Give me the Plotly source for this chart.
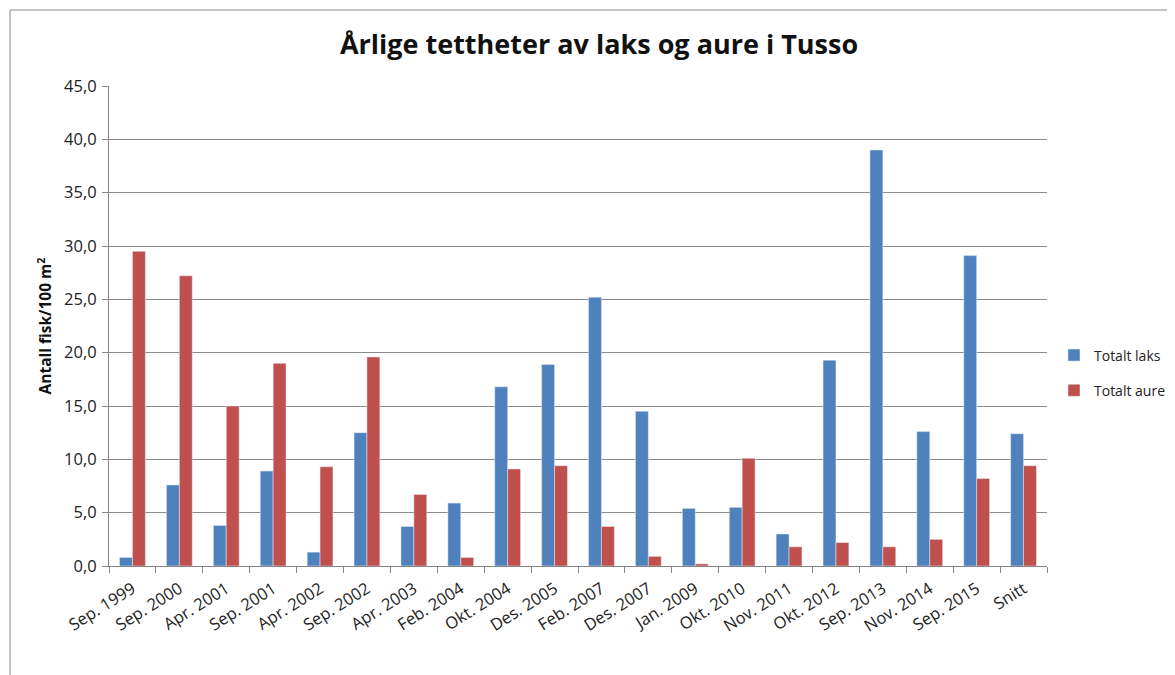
import plotly.graph_objects as go

categories = ["Sep. 1999", "Sep. 2000", "Apr. 2001", "Sep. 2001", "Apr. 2002", "Sep. 2002",
              "Apr. 2003", "Feb. 2004", "Okt. 2004", "Des. 2005", "Feb. 2007", "Des. 2007",
              "Jan. 2009", "Okt. 2010", "Nov. 2011", "Okt. 2012", "Sep. 2013", "Nov. 2014",
              "Sep. 2015", "Snitt"]
laks = [0.8, 7.6, 3.8, 8.9, 1.3, 12.5, 3.7, 5.9, 16.8, 18.9, 25.2, 14.5,
        5.4, 5.5, 3.0, 19.3, 39.0, 12.6, 29.1, 12.4]
aure = [29.5, 27.2, 15.0, 19.0, 9.3, 19.6, 6.7, 0.8, 9.1, 9.4, 3.7, 0.9,
        0.2, 10.1, 1.8, 2.2, 1.8, 2.5, 8.2, 9.4]
y_ticks = [0, 5, 10, 15, 20, 25, 30, 35, 40, 45]

FONT = "'Open Sans', Lato, sans-serif"
W, H = 1175, 675
L, R, T, B = 101, 136, 78, 117
PW, PH = W - L - R, H - T - B

fig = go.Figure()
fig.add_trace(go.Bar(x=categories, y=laks, name="Totalt laks", marker_color="#4F81BD",
                     legendgroup="a"))
fig.add_trace(go.Bar(x=categories, y=aure, name="Totalt aure", marker_color="#C0504D",
                     legendgroup="b"))

fig.update_layout(
    width=W, height=H,
    margin=dict(l=L, r=R, t=T, b=B, autoexpand=False),
    paper_bgcolor="white", plot_bgcolor="white",
    separators=", ",
    barmode="group", bargap=0.45, bargroupgap=0,
    font=dict(family=FONT, size=14, color="#222222"),
    title=dict(text="<b>Årlige tettheter av laks og aure i Tusso</b>",
               x=591 / W, xanchor="center", xref="container",
               y=1 - 37 / H, yanchor="middle", yref="container",
               font=dict(family=FONT, size=27, color="#111111")),
    legend=dict(xref="container", yref="container",
                x=1046 / W, xanchor="left", y=1 - 365 / H, yanchor="middle",
                itemwidth=30,
                tracegroupgap=14, font=dict(size=14, color="#222222"),
                bgcolor="rgba(0,0,0,0)"),
    xaxis=dict(type="category", tickangle=-32, ticks="outside", ticklen=6,
               tickson="boundaries", tickcolor="#868686", automargin=False,
               ticklabelstandoff=6,
               showline=True, linecolor="#868686", linewidth=1,
               showgrid=False, tickfont=dict(size=16.5, color="#222222")),
    yaxis=dict(range=[0, 45], tickvals=y_ticks, tickformat=".1f", automargin=False,
               ticks="outside", ticklen=6, tickcolor="#868686",
               ticklabelstandoff=2,
               showline=True, linecolor="#868686", linewidth=1,
               showgrid=True, gridcolor="#8c8c8c", gridwidth=1,
               zeroline=False, tickfont=dict(size=16.5, color="#222222"),
               title=dict(text="<b>Antall fisk/100 m<sup>2</sup></b>",
                          font=dict(size=15.5, color="#111111"), standoff=8)),
    showlegend=True,
)

fig.add_shape(type="rect", xref="paper", yref="paper",
              x0=(2 - L) / PW, x1=1.3, y0=-0.5, y1=(H - B - 2) / PH,
              line=dict(color="#8a8a8a", width=1), fillcolor="rgba(0,0,0,0)", layer="below")

fig.write_html("out.html")
